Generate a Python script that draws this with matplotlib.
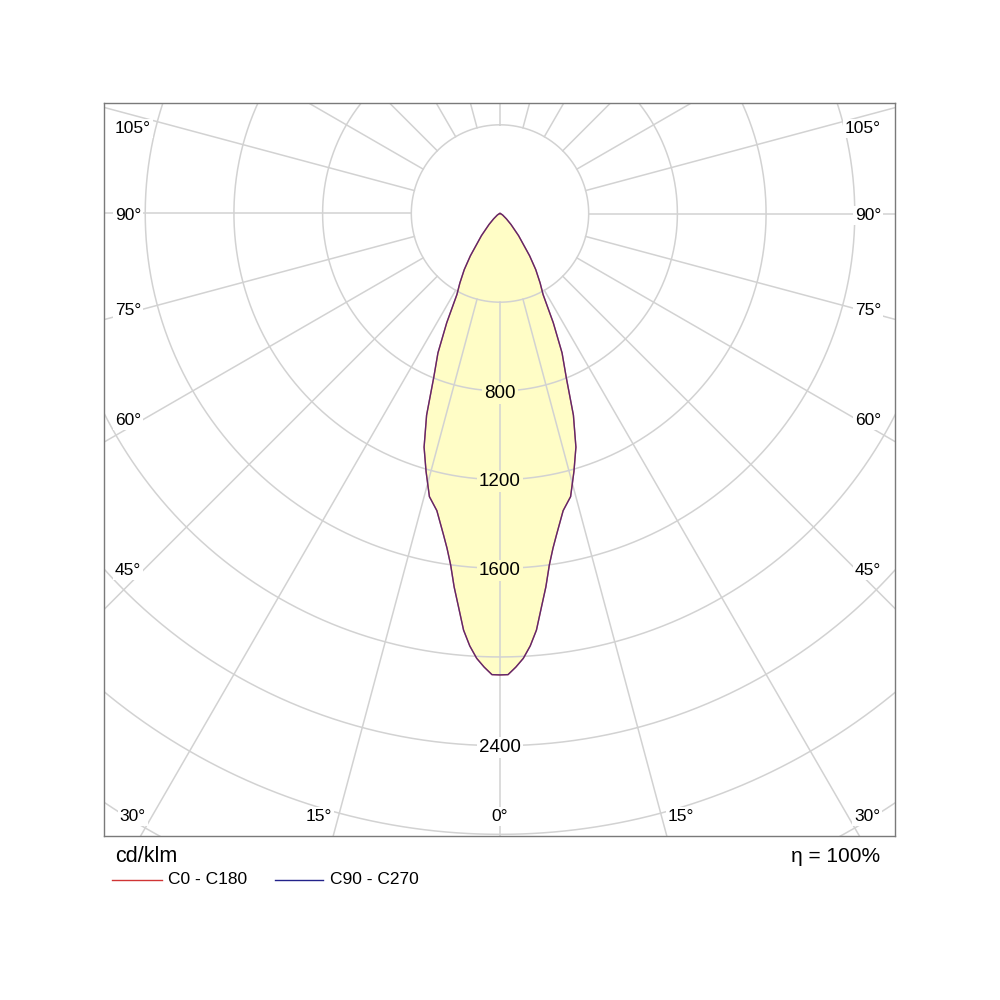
import numpy as np
import matplotlib
matplotlib.use('Agg')
import matplotlib.pyplot as plt
from matplotlib.lines import Line2D

plt.rcParams['font.family'] = ['Liberation Sans', 'DejaVu Sans']

# ---- data (cd/klm) ----
gamma_deg = [0, 1, 2, 3, 4, 5, 6, 7, 8, 9, 10, 12, 14, 16, 18, 20, 22, 24, 26,
             28, 30, 32.5, 35, 40, 45, 50, 60, 70, 80, 90]
c0_c180 = [2081, 2080, 2047, 2009, 1955, 1886, 1786, 1697, 1600, 1528, 1470,
           1370, 1316, 1210, 1108, 968, 798, 688, 548, 414, 362, 300, 233,
           130, 70, 38, 14, 5, 1, 0]
c90_c270 = list(c0_c180)

ring_values = [400, 800, 1200, 1600, 2000, 2400, 2800, 3200, 3600]
ring_labels = [800, 1200, 1600, 2400]
side_label_angles = [45, 60, 75, 90, 105]
bottom_label_angles = [0, 15, 30]
unit_text = 'cd/klm'
eta_text = 'η = 100%'
legend_names = ['C0 - C180', 'C90 - C270']

# ---- styling ----
FILL = '#FFFDC6'
GRID = '#D2D2D2'
RED = '#D03434'
BLUE = '#22228A'
K = 4.51  # cd per pixel
CX, CY = 500.0, 213.5  # pixel centre

fig = plt.figure(figsize=(10, 10), dpi=100)
L, R, T, B = 104, 895, 103, 836
ax = fig.add_axes([L / 1000, 1 - B / 1000, (R - L) / 1000, (B - T) / 1000])
ax.set_xlim((L - CX) * K, (R - CX) * K)
ax.set_ylim(-(B - CY) * K, (CY - T) * K)
ax.set_xticks([])
ax.set_yticks([])
for s in ax.spines.values():
    s.set_color('#7a7a7a')
    s.set_linewidth(1.0)

g = np.radians(np.array(gamma_deg, dtype=float))
I1 = np.array(c0_c180, dtype=float)
I2 = np.array(c90_c270, dtype=float)

def curve(I):
    xr = I * np.sin(g)
    yr = -I * np.cos(g)
    x = np.concatenate([xr[::-1], -xr[1:]])
    y = np.concatenate([yr[::-1], yr[1:]])
    return x, y

x1, y1 = curve(I1)
x2, y2 = curve(I2)
ax.fill(x1, y1, color=FILL, zorder=1, lw=0)

th = np.linspace(0, 2 * np.pi, 1441)
for r in ring_values:
    ax.plot(r * np.sin(th), r * np.cos(th), color=GRID, lw=1.1, zorder=2)
r0 = ring_values[0]
for a in range(0, 360, 15):
    ar = np.radians(a)
    ax.plot([r0 * np.sin(ar), 6000 * np.sin(ar)],
            [-r0 * np.cos(ar), -6000 * np.cos(ar)], color=GRID, lw=1.1, zorder=2)

ax.plot(x1, y1, color=RED, lw=1.0, zorder=3)
ax.plot(x2, y2, color=BLUE, lw=1.0, alpha=0.65, zorder=3)

def half_cap(fs):
    return fs * 100 / 72 * 0.716 / 2  # pixels

# ring labels (visual centre on the ring)
fs_ring = 13.5
for r in ring_labels:
    fc = FILL if r < I1[0] else 'white'
    ax.text(0, -r - half_cap(fs_ring) * K, str(r), ha='center', va='baseline',
            fontsize=fs_ring, zorder=5,
            bbox=dict(facecolor=fc, edgecolor='none', pad=1.5))

bb = dict(facecolor='white', edgecolor='none', pad=1.5)
fs_ang = 12.5
for a in side_label_angles:
    yray = -372 * np.cos(np.radians(a)) / np.sin(np.radians(a))
    ypx = min(0.955 * yray, CY - 127)
    yb = (ypx - half_cap(fs_ang)) * K
    ax.text(-385 * K, yb, f'{a}°', ha='left', va='baseline', fontsize=fs_ang,
            zorder=5, bbox=bb)
    ax.text(381 * K, yb, f'{a}°', ha='right', va='baseline', fontsize=fs_ang,
            zorder=5, bbox=bb)
ybot = -(815 - CY)
for a in bottom_label_angles:
    xr = -ybot * np.tan(np.radians(a))
    xpx = 0 if a == 0 else xr + 20
    for sgn in ([1] if a == 0 else [-1, 1]):
        ax.text(sgn * xpx * K, (ybot - half_cap(fs_ang)) * K, f'{a}°',
                ha='center', va='baseline', fontsize=fs_ang, zorder=5, bbox=bb)

# footer texts
fig.text(0.115, 0.143, unit_text, ha='left', va='center', fontsize=15.5)
fig.text(0.880, 0.143, eta_text, ha='right', va='center', fontsize=15)
fig.add_artist(Line2D([0.112, 0.162], [0.120, 0.120], color=RED, lw=1.0))
fig.text(0.168, 0.120, legend_names[0], ha='left', va='center', fontsize=12.5)
fig.add_artist(Line2D([0.275, 0.323], [0.120, 0.120], color=BLUE, lw=1.0))
fig.text(0.330, 0.120, legend_names[1], ha='left', va='center', fontsize=12.5)

fig.savefig('out.png', dpi=100, facecolor='white')
